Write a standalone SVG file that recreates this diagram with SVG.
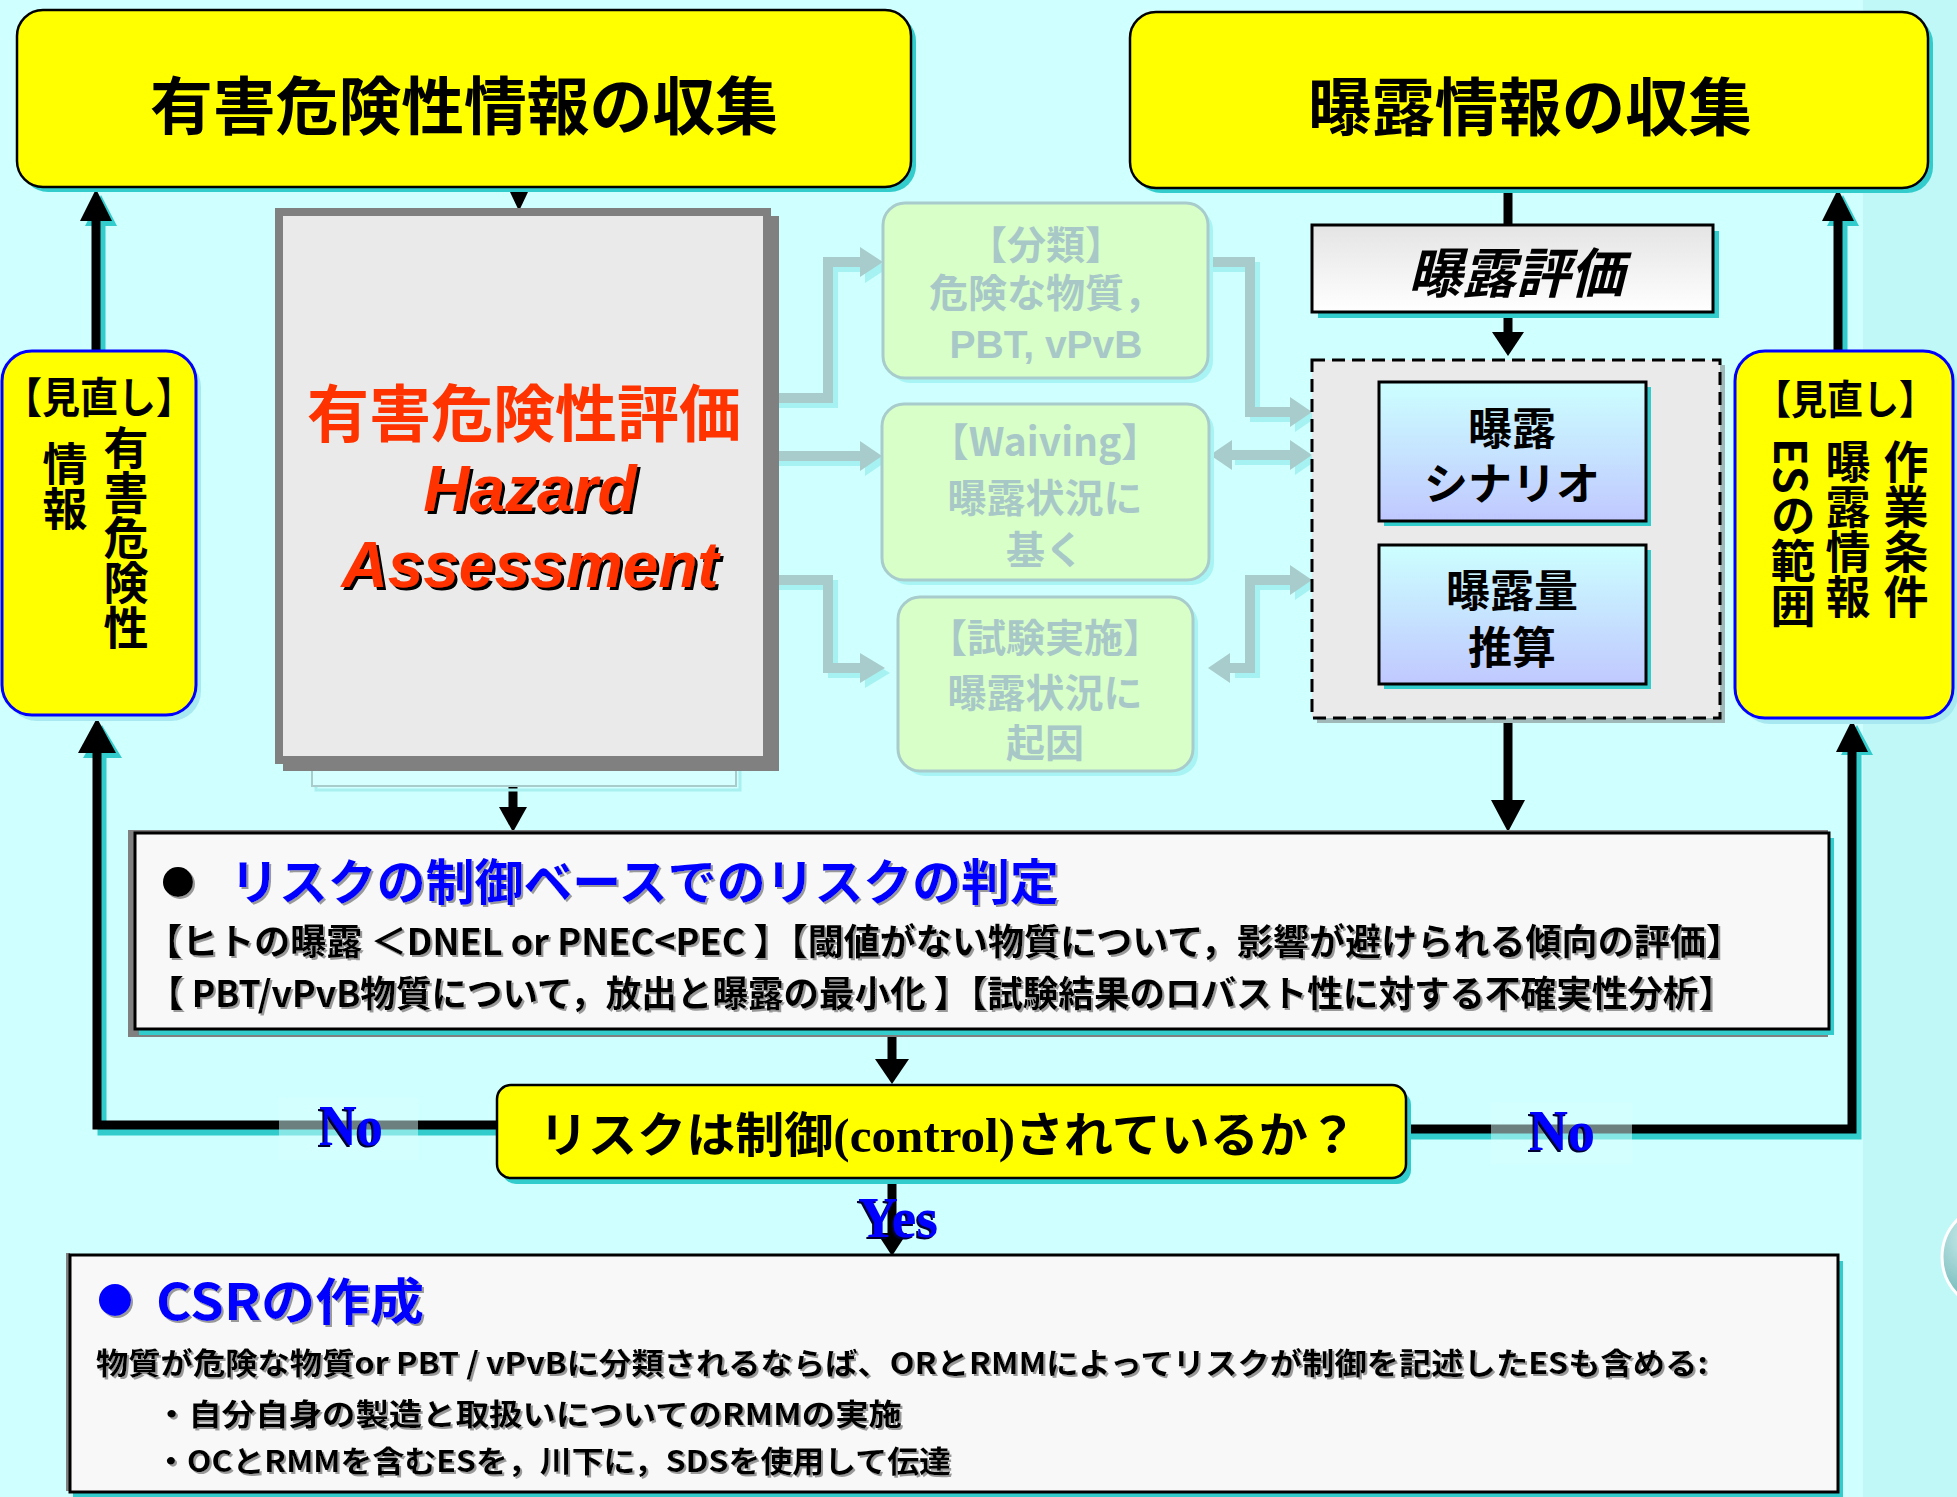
<svg xmlns="http://www.w3.org/2000/svg" width="1957" height="1497" viewBox="0 0 1957 1497">
<style>
.jp{font-family:"Noto Sans CJK JP","Liberation Sans",sans-serif;font-weight:700}
.lat{font-family:"Liberation Sans","Noto Sans CJK JP",sans-serif;font-weight:700}
.ser{font-family:"Liberation Serif",serif;font-weight:700}
.blk{fill:#000}
.ylw{fill:#FFFF00;stroke:#000;stroke-width:2.5}
.tshadow{fill:#33CCCC}
.fade{fill:none;stroke:#A8CCCC;stroke-width:10}
.fadeS{fill:none;stroke:#A6F2F2;stroke-width:10}
.fh{fill:#A8CCCC}
.fhS{fill:#A6F2F2}
.gbox{fill:#D8FFC8;stroke:#A8CCCC;stroke-width:3}
.gtxt{fill:#A8C8C8;font-size:39px;text-anchor:middle}
.conn{fill:none;stroke:#000;stroke-width:9}
.connS{fill:none;stroke:#33CCCC;stroke-width:9}
.vert{writing-mode:vertical-rl;font-size:45px}
.no{fill:#0000FF;font-size:56px}
</style>
<defs>
<linearGradient id="gBlue" x1="0" y1="0" x2="0" y2="1"><stop offset="0" stop-color="#CCFFFF"/><stop offset="1" stop-color="#C0C8FF"/></linearGradient>
<linearGradient id="gGray" x1="0" y1="0" x2="0" y2="1"><stop offset="0" stop-color="#E4E4E4"/><stop offset="1" stop-color="#FFFFFF"/></linearGradient>
<radialGradient id="gSph" cx="0.35" cy="0.3" r="0.8"><stop offset="0" stop-color="#D8F4F4"/><stop offset="1" stop-color="#5AAAAA"/></radialGradient>
<filter id="fBlack" x="-10%" y="-10%" width="130%" height="130%"><feDropShadow dx="3" dy="3" stdDeviation="0" flood-color="#000"/></filter>
<filter id="fGray" x="-5%" y="-10%" width="110%" height="130%"><feDropShadow dx="2" dy="2" stdDeviation="0.6" flood-color="#999999"/></filter>
<filter id="fNo" x="-20%" y="-20%" width="140%" height="150%"><feDropShadow dx="-2" dy="2" stdDeviation="0" flood-color="#000033"/></filter>
</defs>

<!-- background -->
<rect width="1957" height="1497" fill="#CFFFFF"/>
<rect x="1863" y="0" width="94" height="1497" fill="#C0F8F8"/>
<circle cx="1995" cy="1257" r="53" fill="url(#gSph)" stroke="#FFFFFF" stroke-width="3"/>

<!-- faded connectors -->
<g id="faded-connectors">
  <polyline class="fadeS" points="776,403 833,403 833,267 865,267"/>
  <line class="fadeS" x1="776" y1="461" x2="865" y2="461"/>
  <polyline class="fadeS" points="776,585 833,585 833,673 865,673"/>
  <polyline class="fadeS" points="1213,267 1255,267 1255,417 1295,417"/>
  <line class="fadeS" x1="1235" y1="460" x2="1295" y2="460"/>
  <polyline class="fadeS" points="1295,585 1255,585 1255,673 1235,673"/>
  <polygon class="fhS" points="865,253 865,283 888,268"/>
  <polygon class="fhS" points="865,446 865,476 887,461"/>
  <polygon class="fhS" points="865,658 865,688 890,673"/>
  <polygon class="fhS" points="1295,402 1295,432 1317,417"/>
  <polygon class="fhS" points="1295,445 1295,475 1317,460"/>
  <polygon class="fhS" points="1295,570 1295,600 1317,585"/>

  <polyline class="fade" points="771,398 828,398 828,262 862,262"/>
  <line class="fade" x1="771" y1="456" x2="862" y2="456"/>
  <polyline class="fade" points="771,580 828,580 828,668 862,668"/>
  <polygon class="fh" points="860,247 860,277 883,262"/>
  <polygon class="fh" points="860,441 860,471 882,456"/>
  <polygon class="fh" points="860,653 860,683 885,668"/>

  <polyline class="fade" points="1208,262 1250,262 1250,412 1292,412"/>
  <polygon class="fh" points="1290,397 1290,427 1312,412"/>
  <line class="fade" x1="1230" y1="455" x2="1292" y2="455"/>
  <polygon class="fh" points="1232,440 1232,470 1210,455"/>
  <polygon class="fh" points="1290,440 1290,470 1312,455"/>
  <polyline class="fade" points="1292,580 1250,580 1250,668 1228,668"/>
  <polygon class="fh" points="1290,565 1290,595 1312,580"/>
  <polygon class="fh" points="1230,653 1230,683 1208,668"/>
</g>

<!-- main connectors -->
<g id="connectors">
  <line class="connS" x1="101" y1="350" x2="101" y2="222"/>
  <polygon class="tshadow" points="85,226 117,226 101,195"/>
  <line class="connS" x1="1843" y1="350" x2="1843" y2="222"/>
  <polygon class="tshadow" points="1827,226 1859,226 1843,195"/>
  <polyline class="connS" points="497,1131 102,1131 102,755"/>
  <polygon class="tshadow" points="83,758 122,758 102,725"/>
  <polyline class="connS" points="1406,1135 1857,1135 1857,752"/>
  <polygon class="tshadow" points="1841,755 1873,755 1857,725"/>

  <line class="conn" x1="519" y1="188" x2="519" y2="194" stroke-width="4"/>
  <polygon class="blk" points="510,192 528,192 519,211"/>
  <line class="conn" x1="96" y1="351" x2="96" y2="218"/>
  <polygon class="blk" points="80,221 112,221 96,189"/>
  <line class="conn" x1="1838" y1="351" x2="1838" y2="218"/>
  <polygon class="blk" points="1822,221 1854,221 1838,189"/>
  <line class="conn" x1="1508" y1="188" x2="1508" y2="226"/>
  <line class="conn" x1="1508" y1="312" x2="1508" y2="334"/>
  <polygon class="blk" points="1492,332 1524,332 1508,356"/>
  <line class="conn" x1="1508" y1="720" x2="1508" y2="803"/>
  <polygon class="blk" points="1491,800 1525,800 1508,832"/>
  <line class="conn" x1="513" y1="768" x2="513" y2="810"/>
  <polygon class="blk" points="499,807 527,807 513,832"/>
  <line class="conn" x1="892" y1="1033" x2="892" y2="1062"/>
  <polygon class="blk" points="875,1059 909,1059 892,1084"/>
  <line class="conn" x1="892" y1="1180" x2="892" y2="1236"/>
  <polygon class="blk" points="877,1233 907,1233 892,1256"/>
  <polyline class="conn" points="497,1125 97,1125 97,750"/>
  <polygon class="blk" points="78,753 116,753 97,718"/>
  <polyline class="conn" points="1406,1129 1852,1129 1852,750"/>
  <polygon class="blk" points="1836,752 1868,752 1852,720"/>

  <rect x="279" y="1098" width="139" height="62" fill="#D8FFFF" opacity="0.5"/>
  <rect x="1491" y="1102" width="141" height="62" fill="#D8FFFF" opacity="0.5"/>
  <text class="ser no" x="319" y="1145" textLength="64" lengthAdjust="spacingAndGlyphs" filter="url(#fNo)">No</text>
  <text class="ser no" x="1529" y="1150" textLength="66" lengthAdjust="spacingAndGlyphs" filter="url(#fNo)">No</text>
  <text class="ser no" x="858" y="1237" textLength="80" lengthAdjust="spacingAndGlyphs" filter="url(#fNo)">Yes</text>
</g>

<!-- top-left: hazard info collection -->
<g id="hazard-info">
  <rect class="tshadow" x="22" y="15" width="894" height="177" rx="26"/>
  <rect class="ylw" x="17" y="10" width="894" height="177" rx="26"/>
  <text class="jp" x="464" y="129" font-size="63" text-anchor="middle" textLength="628" lengthAdjust="spacingAndGlyphs">有害危険性情報の収集</text>
</g>

<!-- top-right: exposure info collection -->
<g id="exposure-info">
  <rect class="tshadow" x="1135" y="17" width="798" height="176" rx="26"/>
  <rect class="ylw" x="1130" y="12" width="798" height="176" rx="26"/>
  <text class="jp" x="1530" y="130" font-size="63" text-anchor="middle" textLength="444" lengthAdjust="spacingAndGlyphs">曝露情報の収集</text>
</g>

<!-- faint rect under hazard box -->
<g id="hazard-under">
  <rect x="316" y="704" width="424" height="86" fill="none" stroke="#A8F0F0" stroke-width="3"/>
  <rect x="312" y="700" width="424" height="86" fill="#D6FFFF" stroke="#A8CCCC" stroke-width="2"/>
</g>

<!-- hazard assessment -->
<g id="hazard-assessment">
  <rect x="283" y="216" width="496" height="555" fill="#808080"/>
  <rect x="279" y="212" width="488" height="548" fill="#EAEAEA" stroke="#808080" stroke-width="8"/>
  <text class="jp" x="524" y="437" font-size="62" fill="#FF3300" text-anchor="middle">有害危険性評価</text>
  <text class="lat" x="530" y="511" font-size="64" font-style="italic" fill="#FF3300" text-anchor="middle" filter="url(#fBlack)">Hazard</text>
  <text class="lat" x="530" y="587" font-size="64" font-style="italic" fill="#FF3300" text-anchor="middle" filter="url(#fBlack)">Assessment</text>
</g>

<!-- left review box -->
<g id="review-left">
  <rect x="7" y="357" width="194" height="364" rx="30" fill="#A8E8F0"/>
  <rect x="2" y="351" width="194" height="364" rx="30" fill="#FFFF00" stroke="#0000FF" stroke-width="3"/>
  <text class="jp" x="99" y="413" font-size="42" text-anchor="middle" textLength="190" lengthAdjust="spacingAndGlyphs">【見直し】</text>
  <text class="jp vert" x="126" y="425">有害危険性</text>
  <text class="jp vert" x="65" y="441">情報</text>
</g>

<!-- right review box -->
<g id="review-right">
  <rect x="1740" y="357" width="218" height="367" rx="30" fill="#A8E8F0"/>
  <rect x="1735" y="351" width="218" height="367" rx="30" fill="#FFFF00" stroke="#0000FF" stroke-width="3"/>
  <text class="jp" x="1845" y="414" font-size="40" text-anchor="middle" textLength="180" lengthAdjust="spacingAndGlyphs">【見直し】</text>
  <text class="jp vert" x="1906" y="439">作業条件</text>
  <text class="jp vert" x="1848" y="439">曝露情報</text>
  <text class="jp vert" x="1793" y="438">ESの範囲</text>
</g>

<!-- green boxes -->
<g id="classification">
  <rect x="888" y="208" width="325" height="175" rx="22" fill="#A8F4F4"/>
  <rect class="gbox" x="883" y="203" width="325" height="175" rx="22"/>
  <text class="jp gtxt" x="1046" y="259">【分類】</text>
  <text class="jp gtxt" x="1046" y="307">危険な物質，</text>
  <text class="lat gtxt" x="1046" y="358" font-size="42">PBT, vPvB</text>
</g>
<g id="waiving">
  <rect x="887" y="409" width="327" height="176" rx="22" fill="#A8F4F4"/>
  <rect class="gbox" x="882" y="404" width="327" height="176" rx="22"/>
  <text class="jp gtxt" x="1045" y="456">【Waiving】</text>
  <text class="jp gtxt" x="1045" y="512">曝露状況に</text>
  <text class="jp gtxt" x="1045" y="564">基く</text>
</g>
<g id="testing">
  <rect x="903" y="602" width="295" height="174" rx="22" fill="#A8F4F4"/>
  <rect class="gbox" x="898" y="597" width="295" height="174" rx="22"/>
  <text class="jp gtxt" x="1045" y="652">【試験実施】</text>
  <text class="jp gtxt" x="1045" y="707">曝露状況に</text>
  <text class="jp gtxt" x="1045" y="757">起因</text>
</g>

<!-- exposure assessment -->
<g id="exposure-assessment">
  <rect class="tshadow" x="1318" y="231" width="401" height="87"/>
  <rect x="1312" y="225" width="401" height="87" fill="url(#gGray)" stroke="#000" stroke-width="3"/>
  <text class="jp" x="1516" y="293" font-size="54" font-style="italic" text-anchor="middle">曝露評価</text>
</g>

<!-- dashed group -->
<g id="exposure-group">
  <rect x="1317" y="365" width="408" height="358" fill="#A0B8B8"/>
  <rect x="1312" y="360" width="408" height="358" fill="#EAEAEA" stroke="#000" stroke-width="3" stroke-dasharray="13 7"/>
</g>
<g id="exposure-scenario">
  <rect class="tshadow" x="1384" y="387" width="267" height="139"/>
  <rect x="1379" y="382" width="267" height="139" fill="url(#gBlue)" stroke="#000" stroke-width="3"/>
  <text class="jp" x="1512" y="445" font-size="44" text-anchor="middle">曝露</text>
  <text class="jp" x="1512" y="500" font-size="44" text-anchor="middle">シナリオ</text>
</g>
<g id="exposure-estimation">
  <rect class="tshadow" x="1384" y="550" width="267" height="139"/>
  <rect x="1379" y="545" width="267" height="139" fill="url(#gBlue)" stroke="#000" stroke-width="3"/>
  <text class="jp" x="1512" y="607" font-size="44" text-anchor="middle">曝露量</text>
  <text class="jp" x="1512" y="664" font-size="44" text-anchor="middle">推算</text>
</g>

<!-- risk characterisation -->
<g id="risk-judgement">
  <rect x="128" y="830" width="1700" height="207" fill="#808080"/>
  <rect class="tshadow" x="139" y="838" width="1695" height="197"/>
  <rect x="135" y="833" width="1694" height="196" fill="#F8F8F8" stroke="#000" stroke-width="3"/>
  <circle cx="178" cy="882" r="15" fill="#000" filter="url(#fGray)"/>
  <text class="jp" x="230" y="900" font-size="49" fill="#0000FF" textLength="829" lengthAdjust="spacingAndGlyphs" filter="url(#fGray)">リスクの制御ベースでのリスクの判定</text>
  <text class="jp" x="146" y="955" font-size="36" textLength="1596" lengthAdjust="spacingAndGlyphs" filter="url(#fGray)">【ヒトの曝露 ＜DNEL or PNEC&lt;PEC 】【閾値がない物質について，影響が避けられる傾向の評価】</text>
  <text class="jp" x="148" y="1007" font-size="36" textLength="1586" lengthAdjust="spacingAndGlyphs" filter="url(#fGray)">【 PBT/vPvB物質について，放出と曝露の最小化 】【試験結果のロバスト性に対する不確実性分析】</text>
</g>

<!-- decision -->
<g id="decision">
  <rect class="tshadow" x="502" y="1091" width="909" height="93" rx="14"/>
  <rect class="ylw" x="497" y="1085" width="909" height="93" rx="14" stroke-width="3"/>
  <text class="jp" x="539" y="1152" font-size="48" textLength="818" lengthAdjust="spacingAndGlyphs">リスクは制御<tspan class="ser" font-weight="400">(control)</tspan>されているか？</text>
</g>

<!-- CSR -->
<g id="csr">
  <rect class="tshadow" x="73" y="1261" width="1770" height="236"/>
  <rect x="66" y="1253" width="4" height="238" fill="#808080"/>
  <rect x="70" y="1255" width="1768" height="237" fill="#F8F8F8" stroke="#000" stroke-width="3"/>
  <circle cx="115" cy="1300" r="16" fill="#0000FF" filter="url(#fGray)"/>
  <text class="jp" x="156" y="1320" font-size="50" fill="#0000FF" textLength="268" lengthAdjust="spacingAndGlyphs" filter="url(#fGray)">CSRの作成</text>
  <text class="jp" x="96" y="1374" font-size="30" textLength="1612" lengthAdjust="spacingAndGlyphs" filter="url(#fGray)">物質が危険な物質or PBT / vPvBに分類されるならば、ORとRMMによってリスクが制御を記述したESも含める:</text>
  <text class="jp" x="155" y="1425" font-size="30" textLength="747" lengthAdjust="spacingAndGlyphs" filter="url(#fGray)">・自分自身の製造と取扱いについてのRMMの実施</text>
  <text class="jp" x="155" y="1472" font-size="30" textLength="796" lengthAdjust="spacingAndGlyphs" filter="url(#fGray)">・OCとRMMを含むESを，川下に，SDSを使用して伝達</text>
</g>
</svg>
